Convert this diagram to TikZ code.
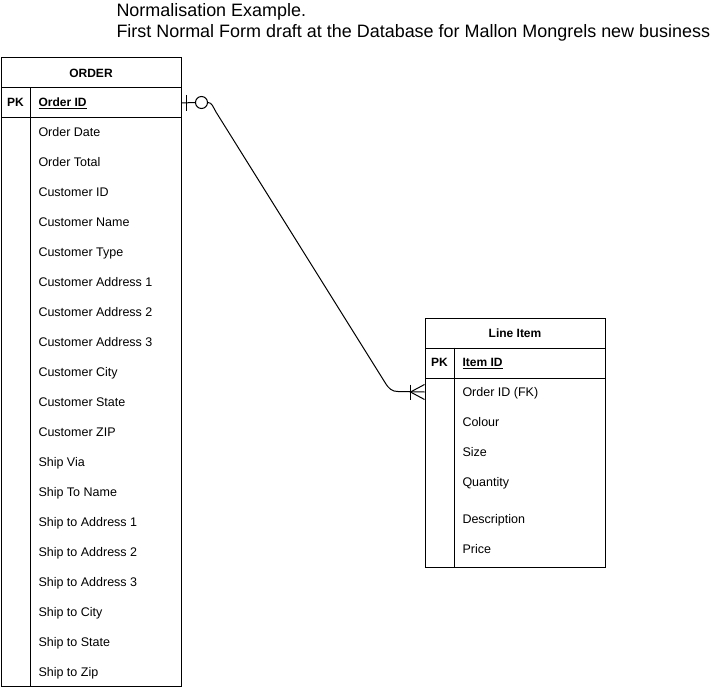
\documentclass[tikz,border=0pt]{standalone}
\usepackage{fontspec}
\setmainfont{Liberation Sans}
\usetikzlibrary{calc}
\begin{document}
\begin{tikzpicture}[x=1pt,y=-1pt,line width=1pt,
  box/.style={draw,line width=1pt,inner sep=0pt,anchor=north west},
  hdr/.style={font=\fontsize{12}{14}\selectfont\bfseries},
  attr/.style={anchor=base west,inner sep=0pt,font=\fontsize{12.5}{14}\selectfont},
  pklab/.style={anchor=base,inner sep=0pt,font=\fontsize{12}{14}\selectfont\bfseries},
  ttl/.style={anchor=base west,inner sep=0pt,font=\fontsize{17.95}{21}\selectfont},
  rel/.style={line width=1pt}]
\useasboundingbox (0,0) rectangle (725,687);

% title
\node[ttl] (t1) at (116,17) {Normalisation Example.};
\node[ttl] (t2) at (116,37.3) {First Normal Form draft at the Database for Mallon Mongrels new business};

% ORDER table
\node[box,minimum width=180pt,minimum height=30pt,hdr] (orderhead) at (0.5,57.5) {ORDER};
\node[box,minimum width=180pt,minimum height=30pt] (orderpk) at (0.5,87.5) {};
\node[box,minimum width=180pt,minimum height=568pt] (orderbody) at (0.5,117.5) {};
\draw (30.5,87.5) -- (30.5,685.5);
\node[pklab] (opk) at (15.5,106.8) {PK};
\node[attr,font=\fontsize{12}{14}\selectfont\bfseries] (oid) at (38,106.8) {\underline{Order ID}};
\foreach \t [count=\i from 0] in {Order Date,Order Total,Customer ID,Customer Name,Customer Type,Customer Address 1,Customer Address 2,Customer Address 3,Customer City,Customer State,Customer ZIP,Ship Via,Ship To Name,Ship to Address 1,Ship to Address 2,Ship to Address 3,Ship to City,Ship to State,Ship to Zip}
  \node[attr] (o\i) at (38,{136.3+30*\i}) {\t};

% Line Item table
\node[box,minimum width=180pt,minimum height=30pt,hdr] (lihead) at (424.5,317.5) {Line Item};
\node[box,minimum width=180pt,minimum height=30pt] (lipk) at (424.5,347.5) {};
\node[box,minimum width=180pt,minimum height=189pt] (libody) at (424.5,377.5) {};
\draw (454.5,347.5) -- (454.5,566.5);
\node[pklab] (lpk) at (439.5,366.3) {PK};
\node[attr,font=\fontsize{12}{14}\selectfont\bfseries] (liid) at (462,366.3) {\underline{Item ID}};
\node[draw=none,inner sep=0pt,minimum width=180pt,minimum height=30pt,anchor=north west] (fkrow) at (424.5,376.5) {};
\node[attr] (l1) at (462,396.3) {Order ID (FK)};
\node[attr] (l2) at (462,426.3) {Colour};
\node[attr] (l3) at (462,456.3) {Size};
\node[attr] (l4) at (462,486.3) {Quantity};
\node[attr] (l5) at (462,523.3) {Description};
\node[attr] (l6) at (462,553.3) {Price};

% relationship
\node[draw,circle,minimum size=12pt,inner sep=0pt] (zc) at (201.5,102.5) {};
\draw[rel] (orderpk.east) -- (zc.west);
\draw[rel] ($(orderpk.east)+(5,-8)$) -- ($(orderpk.east)+(5,8)$);
\draw[rel] (zc.east) .. controls +(4,0) and +(-3,-5) .. (216,112) -- (385,382.5)
   .. controls +(4,6.5) and +(-6,0) .. (398,391.5) -- (fkrow.west);
\draw[rel] ($(fkrow.west)+(-14,-7.5)$) -- ($(fkrow.west)+(-14,7.5)$);
\draw[rel] ($(fkrow.west)+(0,-7.5)$) -- ($(fkrow.west)+(-14,0)$) -- ($(fkrow.west)+(0,7.5)$);
\end{tikzpicture}
\end{document}
